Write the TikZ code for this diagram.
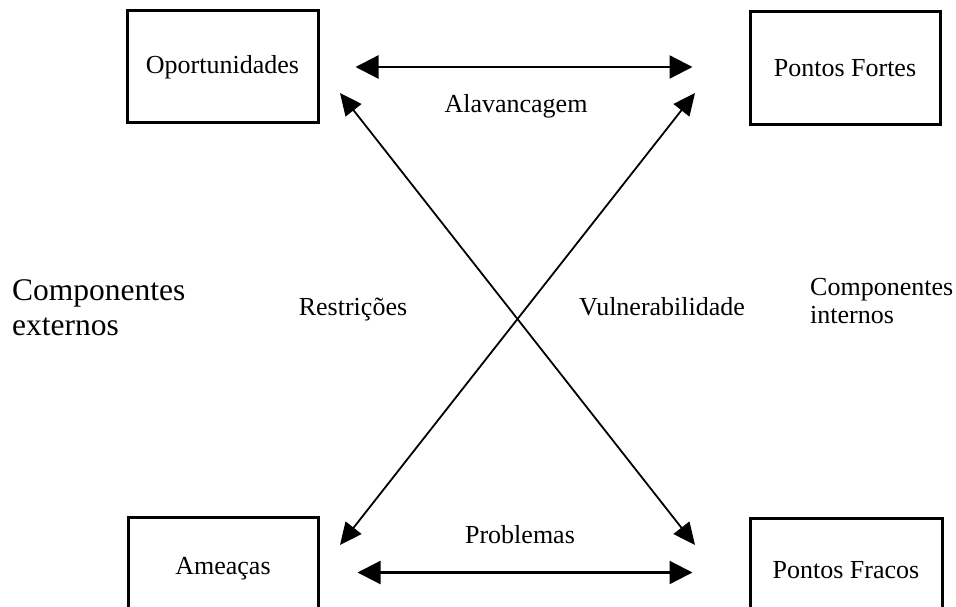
\documentclass[tikz,border=0pt]{standalone}
\usepackage{fontspec}
\setmainfont{Liberation Serif}
\usetikzlibrary{arrows.meta,calc}
\begin{document}
\begin{tikzpicture}[x=1pt,y=-1pt,
  box/.style={draw, line width=3pt, inner sep=0pt, font=\fontsize{26}{30}\selectfont},
  lbl/.style={inner sep=0pt, font=\fontsize{26}{28}\selectfont},
  bigl/.style={inner sep=0pt, font=\fontsize{31.5}{35}\selectfont},
  harr/.style={{Triangle[length=23pt,width=23pt]}-{Triangle[length=23pt,width=23pt]}, line width=2.3pt},
  darr/.style={{Triangle[length=22pt,width=20pt]}-{Triangle[length=22pt,width=20pt]}, line width=1.8pt}]
\clip (0,0) rectangle (956,607);
\fill[white] (0,0) rectangle (956,607);
% boxes
\node[box, minimum width=191pt, minimum height=112pt] (op) at (222.5,67) {Oportunidades};
\node[box, minimum width=190pt, minimum height=113pt] (pf) at (845,68.5) {Pontos Fortes};
\node[box, minimum width=190pt, minimum height=104pt] (am) at (223,569) {Ameaças};
\node[box, minimum width=192pt, minimum height=104pt] (pfr) at (846,570) {Pontos Fracos};
% horizontal connectors
\draw[harr, shorten <=36pt, shorten >=56pt] (op.east) -- (op.east -| pf.west);
\draw[harr, shorten <=38pt, shorten >=56pt] ($(am.east)+(0,3.5)$) -- ($(am.east -| pfr.west)+(0,3.5)$);
% diagonal connectors
\coordinate (d1s) at (340,93);
\coordinate (d1e) at (695,545);
\coordinate (d2s) at (695,93);
\coordinate (d2e) at (340,545);
\draw[darr] (d1s) -- (d1e);
\draw[darr] (d2s) -- (d2e);
% labels
\node[lbl, anchor=base] (alav) at (516,113) {Alavancagem};
\node[lbl, anchor=base] (prob) at (520,543) {Problemas};
\node[lbl, anchor=base] (restr) at (353,315) {Restrições};
\node[lbl, anchor=base] (vuln) at (662,315) {Vulnerabilidade};
\node[bigl, align=left, anchor=base west] (ext) at (12,335) {Componentes\\externos};
\node[lbl, align=left, anchor=base west] (int) at (810,323) {Componentes\\internos};
\end{tikzpicture}
\end{document}
